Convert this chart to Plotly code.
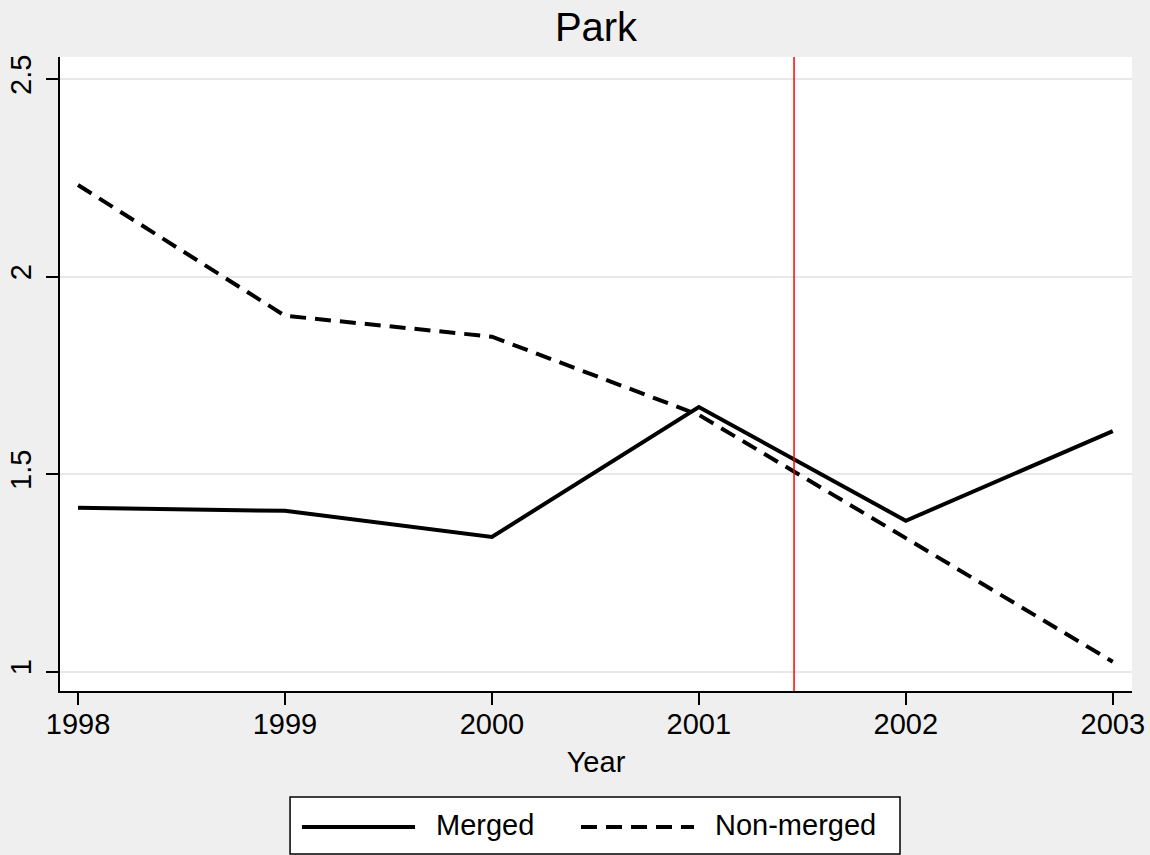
import plotly.graph_objects as go

# Mean values by year for merged vs non-merged parks
years = [1998, 1999, 2000, 2001, 2002, 2003]
merged = [1.415, 1.407, 1.341, 1.670, 1.382, 1.609]
non_merged = [2.232, 1.901, 1.848, 1.650, 1.338, 1.025]
y_ticks = [1, 1.5, 2, 2.5]
y_tick_text = ["1", "1.5", "2", "2.5"]
event_year = 2001.46
series_names = ["Merged", "Non-merged"]

FONT = "Liberation Sans, Arial, sans-serif"
DASH = "16px,9px"

fig = go.Figure()
fig.add_trace(go.Scatter(x=years, y=merged, mode="lines", name=series_names[0],
                         line=dict(color="black", width=4), showlegend=False))
fig.add_trace(go.Scatter(x=years, y=non_merged, mode="lines", name=series_names[1],
                         line=dict(color="black", width=4, dash=DASH),
                         showlegend=False))

# vertical reference line at the event date
fig.add_shape(type="line", xref="x", yref="paper", x0=event_year, x1=event_year,
              y0=0, y1=1, line=dict(color="#ff0000", width=1.5))

# legend box drawn below the plot with long line samples
fig.add_shape(type="rect", xref="paper", yref="paper", x0=0.2146, x1=0.7836,
              y0=-0.2571, y1=-0.1672, line=dict(color="black", width=1.5),
              fillcolor="white", layer="above")
fig.add_shape(type="line", xref="paper", yref="paper", x0=0.2257, x1=0.3312,
              y0=-0.2145, y1=-0.2145, line=dict(color="black", width=4))
fig.add_shape(type="line", xref="paper", yref="paper", x0=0.486, x1=0.5914,
              y0=-0.2145, y1=-0.2145, line=dict(color="black", width=4, dash=DASH))
fig.add_annotation(xref="paper", yref="paper", x=0.3489, y=-0.2121, text=series_names[0],
                   showarrow=False, xanchor="left", yanchor="middle",
                   font=dict(family=FONT, size=29, color="black"))
fig.add_annotation(xref="paper", yref="paper", x=0.6091, y=-0.2121, text=series_names[1],
                   showarrow=False, xanchor="left", yanchor="middle",
                   font=dict(family=FONT, size=29, color="black"))

fig.update_layout(
    width=1150, height=855,
    margin=dict(l=60, r=18, t=57, b=164, autoexpand=False),
    paper_bgcolor="#efefef", plot_bgcolor="white",
    font=dict(family=FONT, size=29, color="black"),
    title=dict(text="Park", x=0.5, xref="paper", xanchor="center",
               y=1 - 27 / 855, yanchor="middle", font=dict(size=40, family=FONT)),
    showlegend=False,
    xaxis=dict(range=[1997.913, 2003.093], tickvals=years, ticks="outside",
               ticklen=12, tickwidth=2, tickcolor="black", showline=True,
               linecolor="black", linewidth=2, showgrid=False, zeroline=False,
               automargin=False, ticklabelstandoff=-6,
               title=dict(text="Year", standoff=13, font=dict(size=29)),
               tickfont=dict(size=29)),
    yaxis=dict(range=[0.951, 2.556], tickvals=y_ticks, ticktext=y_tick_text,
               ticks="outside", ticklen=12, tickwidth=2, tickcolor="black",
               showline=True, linecolor="black", linewidth=2, showgrid=True,
               gridcolor="#e8e8e8", gridwidth=2, zeroline=False, tickangle=-90,
               automargin=False, ticklabelstandoff=3,
               tickfont=dict(size=29)),
)

fig.write_html("out.html")
